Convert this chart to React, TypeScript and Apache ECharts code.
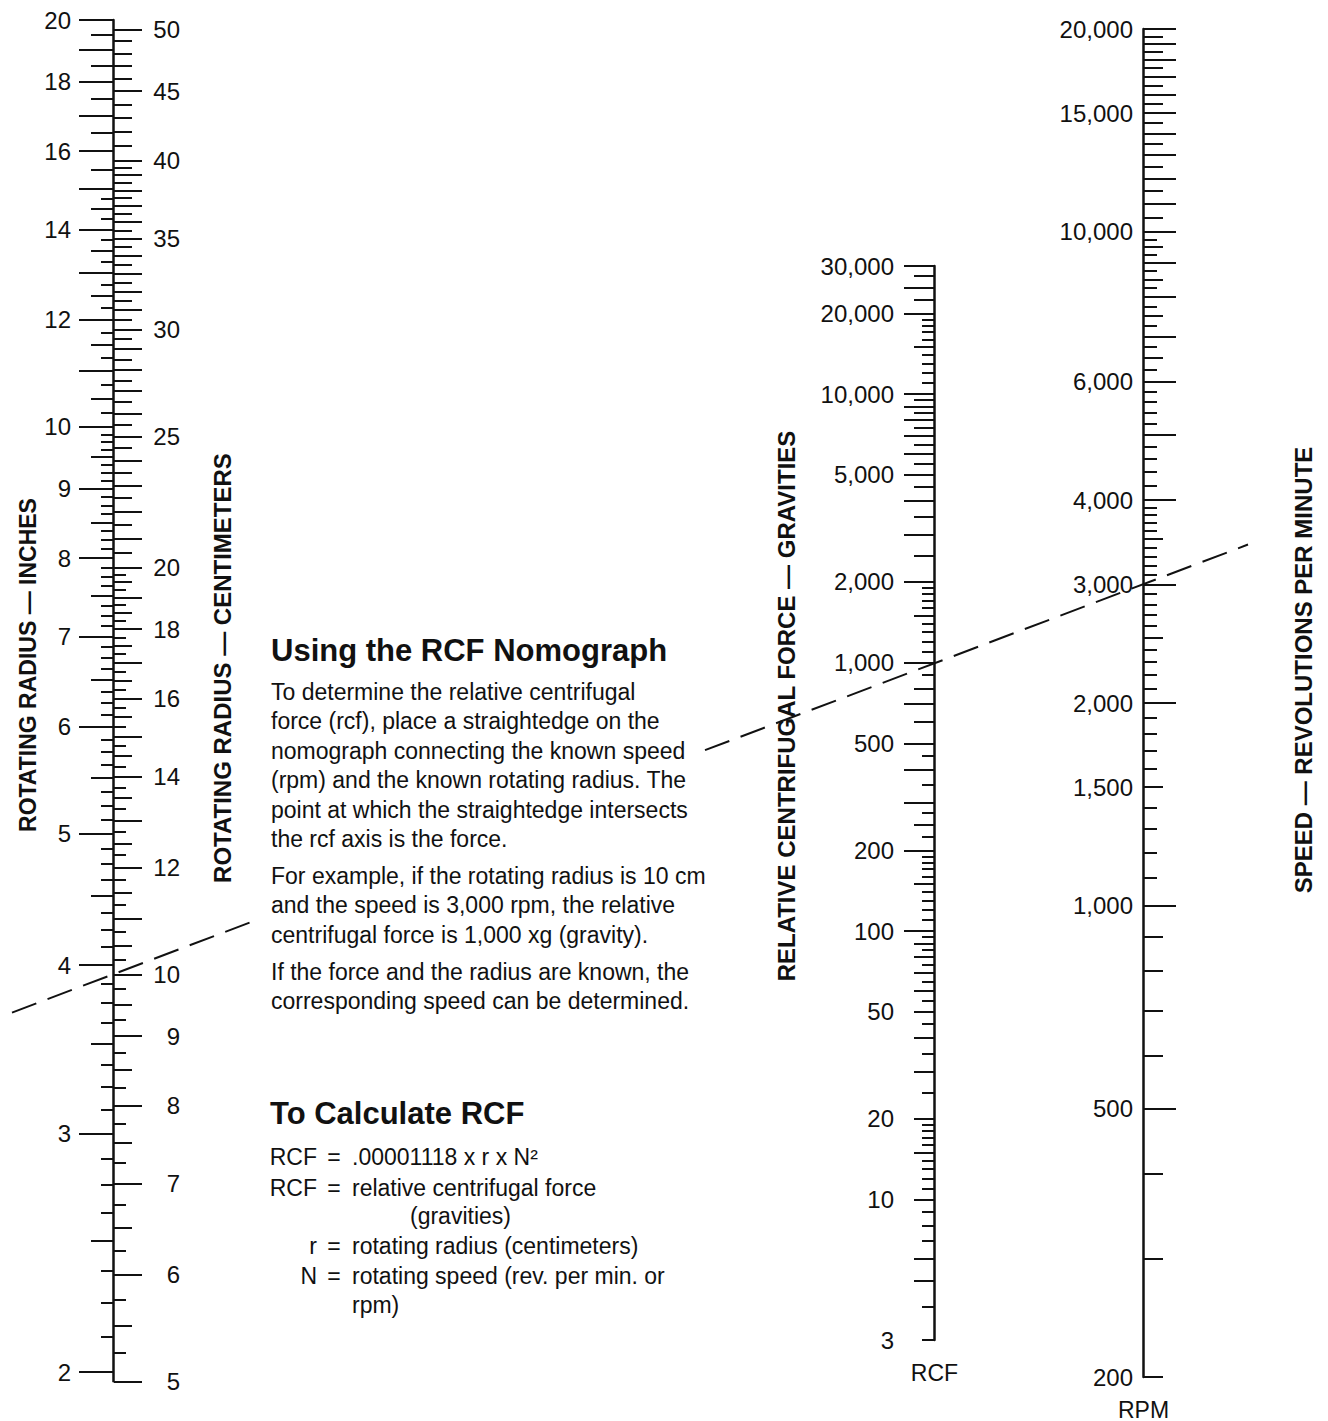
import React, { useEffect, useRef } from "react";
import * as echarts from "echarts";

const FONT = '"Liberation Sans", Arial, Helvetica, sans-serif';
const INK = "#111111";
const W = 1328;
const H = 1421;

const CM_PER_INCH = 2.54;

/* ---- rotating radius: inches (left side) and centimetres (right side) share one line ---- */
const INCH_TOP = 20;
const INCH_LABELS = [20, 18, 16, 14, 12, 10, 9, 8, 7, 6, 5, 4, 3, 2];
const INCH_DIVISIONS: number[][] = [[15, 20, 0.5], [10, 15, 0.25], [2, 10, 0.125]];
const CM_BOTTOM = 5;
const CM_LABELS = [50, 45, 40, 35, 30, 25, 20, 18, 16, 14, 12, 10, 9, 8, 7, 6, 5];
const CM_DIVISIONS: number[][] = [[40, 50, 1], [20, 40, 0.5], [5, 20, 0.25]];

/* ---- relative centrifugal force (gravities) ---- */
const RCF_MIN = 3;
const RCF_MAX = 30000;
const RCF_LABELS = [30000, 20000, 10000, 5000, 2000, 1000, 500, 200, 100, 50, 20, 10, 3];
const RCF_DIVISIONS: number[][] = [
  [20000, 30000, 2500],
  [10000, 20000, 1000],
  [2000, 10000, 500],
  [500, 2000, 100],
  [300, 500, 50],
  [200, 300, 25],
  [100, 200, 10],
  [20, 100, 5],
  [3, 20, 1],
];
const RCF_LONG = [30000, 25000, 20000, 10000, 9000, 8000, 7000, 6000, 5000, 4000, 3000, 2000, 1000, 700, 500, 400, 300, 200, 100];
const RCF_MEDIUM = [27500, 22500, 15000, 9500, 8500, 7500, 6500, 5500, 4500, 3500, 2500, 1500, 800, 600, 250, 150, 90, 80, 70, 60, 50, 40, 30, 20, 15, 10, 6, 5];

/* ---- speed (revolutions per minute) ---- */
const RPM_MIN = 200;
const RPM_MAX = 20000;
const RPM_LABELS = [20000, 15000, 10000, 6000, 4000, 3000, 2000, 1500, 1000, 500, 200];
const RPM_DIVISIONS: number[][] = [[10000, 20000, 500], [6000, 10000, 250], [4000, 6000, 200], [200, 4000, 100]];

/* ---- worked example: the dashed straightedge ---- */
const EXAMPLE_RADIUS_CM = 10;
const EXAMPLE_RPM = 3000;

/* ---- texts ---- */
const AXIS_TITLES = {
  inches: "ROTATING RADIUS — INCHES",
  cm: "ROTATING RADIUS — CENTIMETERS",
  rcf: "RELATIVE CENTRIFUGAL FORCE — GRAVITIES",
  rpm: "SPEED — REVOLUTIONS PER MINUTE",
};
const HOWTO_TITLE = "Using the RCF Nomograph";
const HOWTO_PARAGRAPHS = [
  [
    "To determine the relative centrifugal",
    "force (rcf), place a straightedge on the",
    "nomograph connecting the known speed",
    "(rpm) and the known rotating radius. The",
    "point at which the straightedge intersects",
    "the rcf axis is the force.",
  ],
  [
    "For example, if the rotating radius is 10 cm",
    "and the speed is 3,000 rpm, the relative",
    "centrifugal force is 1,000 xg (gravity).",
  ],
  ["If the force and the radius are known, the", "corresponding speed can be determined."],
];
const CALC_TITLE = "To Calculate RCF";
const FORMULA_ROWS = [
  ["RCF", "=", ".00001118 x r x N²"],
  ["RCF", "=", "relative centrifugal force"],
  ["", "", "(gravities)"],
  ["r", "=", "rotating radius (centimeters)"],
  ["N", "=", "rotating speed (rev. per min. or"],
  ["", "", "rpm)"],
];

/* ---------------- layout ---------------- */
const RADIUS_X = 113;
const RADIUS_TOP = 20;
const RADIUS_PX_PER_DECADE = 1352;
const RCF_X = 934;
const RCF_TOP = 266;
const RCF_HEIGHT = 1074;
const RPM_X = 1143;
const RPM_TOP = 29;
const RPM_HEIGHT = 1348;

const LEN = {
  inch: { L: 34, M: 22, S: 12 },
  cm: { L: 28, M: 18, S: 12 },
  rcf: { L: 30, M: 20, S: 12 },
  rpm: { L: 32, M: 19, S: 13 },
};

type Tier = "L" | "M" | "S";
const TIERS: Tier[] = ["L", "M", "S"];

function divisions(spec: number[][]): number[] {
  const out: number[] = [];
  for (const [from, to, step] of spec) {
    const n = Math.round((to - from) / step);
    for (let i = 0; i <= n; i++) {
      const v = Math.round((from + i * step) * 1e6) / 1e6;
      if (!out.some((u) => Math.abs(u - v) < 1e-9)) out.push(v);
    }
  }
  return out.sort((a, b) => a - b);
}
const isMult = (v: number, m: number) => Math.abs(v / m - Math.round(v / m)) < 1e-6;
const inList = (list: number[], v: number) => list.some((u) => Math.abs(u - v) < 1e-6);

const inchTier = (v: number): Tier => (isMult(v, 1) ? "L" : isMult(v, 0.5) ? "M" : "S");
const cmTier = (v: number): Tier =>
  isMult(v, 5) || (isMult(v, 1) && v <= 40) ? "L" : isMult(v, 0.5) ? "M" : "S";
const rcfTier = (v: number): Tier => (inList(RCF_LONG, v) ? "L" : inList(RCF_MEDIUM, v) ? "M" : "S");
const rpmTier = (v: number): Tier => {
  if ((v >= 1000 && isMult(v, 1000)) || v === 500) return "L";
  if ((v >= 6000 && isMult(v, 500)) || (v < 4000 && isMult(v, 500)) || v < 1000) return "M";
  return "S";
};

const withCommas = (v: number) => String(Math.round(v)).replace(/\B(?=(\d{3})+(?!\d))/g, ",");

function baseLogAxis(gridIndex: number, range: number[], position: string): any {
  return {
    type: "log",
    logBase: 10,
    gridIndex,
    position,
    min: range[0] * (1 - 1e-9),
    max: range[1] * (1 + 1e-9),
    axisLine: { show: false, onZero: false },
    axisTick: { show: false },
    axisLabel: { show: false },
    splitLine: { show: false },
    minorTick: { show: false },
    minorSplitLine: { show: false },
  };
}

function tickAxis(gridIndex: number, range: number[], position: string, values: number[], length: number) {
  const a = baseLogAxis(gridIndex, range, position);
  a.axisTick = {
    show: true,
    customValues: values,
    length,
    inside: false,
    lineStyle: { color: INK, width: 2 },
  };
  return a;
}

function labelAxis(
  gridIndex: number,
  range: number[],
  position: string,
  values: number[],
  margin: number,
  formatter: (v: number) => string,
  withLine: boolean,
  align?: string
) {
  const a = baseLogAxis(gridIndex, range, position);
  if (withLine) a.axisLine = { show: true, onZero: false, lineStyle: { color: INK, width: 2.5 } };
  a.axisLabel = {
    show: true,
    customValues: values,
    margin,
    formatter,
    fontFamily: FONT,
    fontSize: 24,
    color: INK,
    ...(align ? { align } : {}),
  };
  return a;
}

function textEl(id: string, x: number, y: number, text: string, o: any = {}) {
  return {
    type: "text",
    id,
    x,
    y,
    rotation: o.rotation || 0,
    silent: true,
    z: 20,
    style: {
      text,
      fill: INK,
      fontFamily: FONT,
      fontSize: o.fontSize || 23,
      fontWeight: o.fontWeight || "normal",
      lineHeight: o.lineHeight,
      align: o.align || "left",
      textAlign: o.align || "left",
      verticalAlign: o.verticalAlign || "middle",
      textVerticalAlign: o.verticalAlign || "middle",
    },
  };
}

function buildOption() {
  const inchRange = [CM_BOTTOM / CM_PER_INCH, INCH_TOP];
  const radiusHeight = RADIUS_PX_PER_DECADE * Math.log10(inchRange[1] / inchRange[0]);

  const inchTicks = divisions(INCH_DIVISIONS);
  const cmTicks = divisions(CM_DIVISIONS);
  const rcfTicks = divisions(RCF_DIVISIONS);
  const rpmTicks = divisions(RPM_DIVISIONS);

  const yAxes: any[] = [];
  const add = (a: any) => {
    yAxes.push(a);
    return yAxes.length - 1;
  };

  // radius scale
  const radiusLine = add(
    labelAxis(0, inchRange, "left", INCH_LABELS, 42, (v) => String(Math.round(v)), true)
  );
  TIERS.forEach((t) =>
    add(tickAxis(0, inchRange, "left", inchTicks.filter((v) => inchTier(v) === t), LEN.inch[t]))
  );
  add(
    labelAxis(
      0,
      inchRange,
      "right",
      CM_LABELS.map((c) => c / CM_PER_INCH),
      66,
      (v) => String(Math.round(v * CM_PER_INCH)),
      false,
      "right"
    )
  );
  TIERS.forEach((t) =>
    add(
      tickAxis(
        0,
        inchRange,
        "right",
        cmTicks.filter((v) => cmTier(v) === t).map((c) => c / CM_PER_INCH),
        LEN.cm[t]
      )
    )
  );

  // rcf scale
  const rcfRange = [RCF_MIN, RCF_MAX];
  add(labelAxis(1, rcfRange, "left", RCF_LABELS, 40, withCommas, true));
  TIERS.forEach((t) =>
    add(tickAxis(1, rcfRange, "left", rcfTicks.filter((v) => rcfTier(v) === t), LEN.rcf[t]))
  );

  // rpm scale
  const rpmRange = [RPM_MIN, RPM_MAX];
  const rpmLine = add(labelAxis(2, rpmRange, "left", RPM_LABELS, 10, withCommas, true));
  TIERS.forEach((t) =>
    add(tickAxis(2, rpmRange, "right", rpmTicks.filter((v) => rpmTier(v) === t), LEN.rpm[t]))
  );

  const caption = (gridIndex: number, name: string) => ({
    type: "value",
    gridIndex,
    min: 0,
    max: 1,
    position: "bottom",
    show: name !== "",
    axisLine: { show: false, onZero: false },
    axisTick: { show: false },
    axisLabel: { show: false },
    splitLine: { show: false },
    name,
    nameLocation: "middle",
    nameGap: 21,
    nameTextStyle: { fontFamily: FONT, fontSize: 23, color: INK },
  });

  const gridBase = { width: 1, containLabel: false, outerBoundsMode: "none" };
  const option = {
    animation: false,
    backgroundColor: "#ffffff",
    grid: [
      { ...gridBase, left: RADIUS_X, top: RADIUS_TOP, height: radiusHeight },
      { ...gridBase, left: RCF_X, top: RCF_TOP, height: RCF_HEIGHT },
      { ...gridBase, left: RPM_X, top: RPM_TOP, height: RPM_HEIGHT },
    ],
    xAxis: [caption(0, ""), caption(1, "RCF"), caption(2, "RPM")],
    yAxis: yAxes,
  };
  return { option, radiusLine, rpmLine };
}

function buildTexts() {
  const els: any[] = [];
  const bold = { fontWeight: "bold", fontSize: 24, rotation: Math.PI / 2, align: "center" };
  els.push(textEl("t-in", 28, 665, AXIS_TITLES.inches, { ...bold, fontSize: 23 }));
  els.push(textEl("t-cm", 222, 668, AXIS_TITLES.cm, bold));
  els.push(textEl("t-rcf", 786, 706, AXIS_TITLES.rcf, bold));
  els.push(textEl("t-rpm", 1303, 670, AXIS_TITLES.rpm, bold));

  els.push(textEl("howto", 271, 650, HOWTO_TITLE, { fontWeight: "bold", fontSize: 31 }));
  const paraStart = [692, 876, 972];
  const lh = 29.4;
  HOWTO_PARAGRAPHS.forEach((lines, p) => {
    lines.forEach((line, i) => {
      els.push(textEl(`p${p}-${i}`, 271, paraStart[p] + i * lh, line, { fontSize: 23 }));
    });
  });

  els.push(textEl("calc", 270, 1113, CALC_TITLE, { fontWeight: "bold", fontSize: 31 }));
  const rowY = [1157, 1188, 1216, 1246, 1276, 1305];
  FORMULA_ROWS.forEach(([sym, eq, rhs], i) => {
    if (sym) els.push(textEl(`f-s${i}`, 317, rowY[i], sym, { align: "right" }));
    if (eq) els.push(textEl(`f-e${i}`, 334, rowY[i], eq, { align: "center" }));
    const x = !sym && rhs.startsWith("(") ? 410 : 352;
    els.push(textEl(`f-r${i}`, x, rowY[i], rhs));
  });
  return els;
}

export default function App() {
  const ref = useRef<HTMLDivElement>(null);

  useEffect(() => {
    document.body.style.margin = "0";
    if (!ref.current) return;
    const chart = echarts.init(ref.current, null, { renderer: "svg", width: W, height: H });
    const { option, radiusLine, rpmLine } = buildOption();
    chart.setOption(option as any);

    // straightedge through the worked example: radius 10 cm and 3,000 rpm (crosses 1,000 g)
    const pL = chart.convertToPixel({ xAxisIndex: 0, yAxisIndex: radiusLine } as any, [
      0,
      EXAMPLE_RADIUS_CM / CM_PER_INCH,
    ]) as number[];
    const pR = chart.convertToPixel({ xAxisIndex: 2, yAxisIndex: rpmLine } as any, [0, EXAMPLE_RPM]) as number[];
    const yAt = (x: number) => pL[1] + ((pR[1] - pL[1]) * (x - pL[0])) / (pR[0] - pL[0]);
    const spans = [
      [12, 260],
      [705, 1248],
    ];
    const lines = spans.map(([x1, x2], i) => ({
      type: "line",
      id: `edge${i}`,
      silent: true,
      z: 15,
      shape: { x1, y1: yAt(x1), x2, y2: yAt(x2) },
      style: { stroke: INK, lineWidth: 2, lineDash: [26, 12], fill: null },
    }));

    chart.setOption({ graphic: { elements: [...buildTexts(), ...lines] } } as any);
    return () => chart.dispose();
  }, []);

  return <div ref={ref} style={{ width: W, height: H, background: "#fff" }} />;
}
